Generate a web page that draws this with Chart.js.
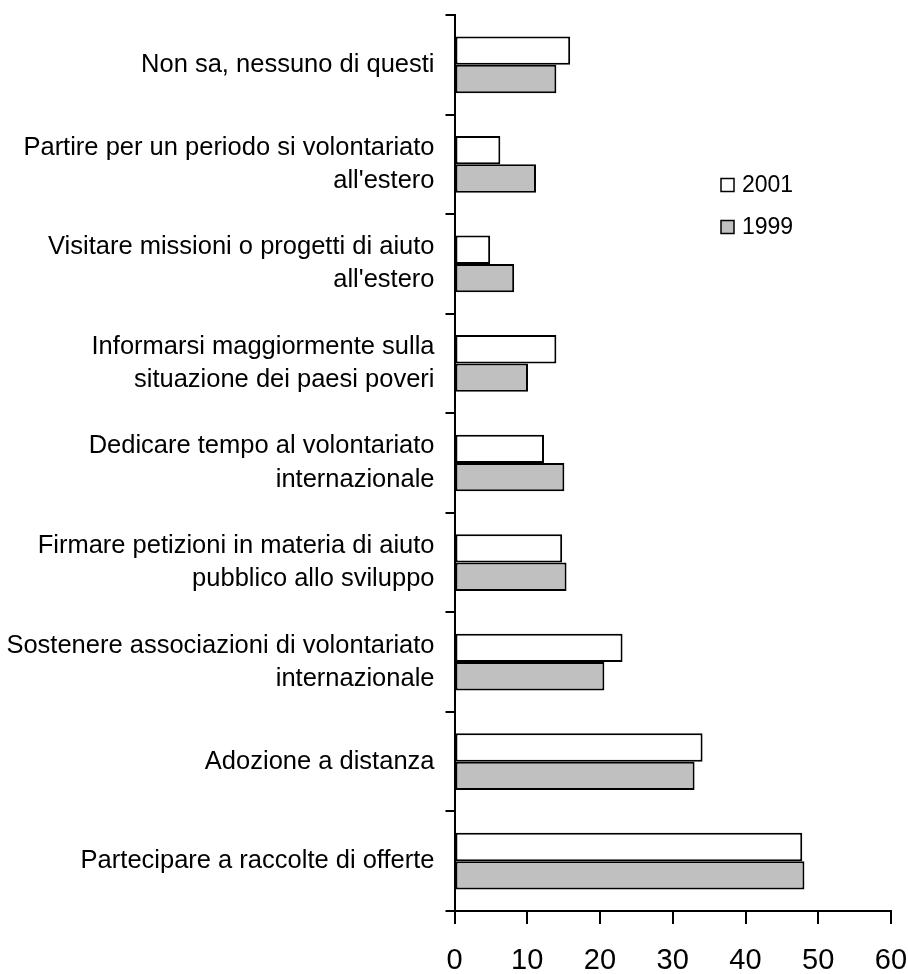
<!DOCTYPE html>
<html>
<head>
<meta charset="utf-8">
<script src="https://cdn.jsdelivr.net/npm/chart.js@4/dist/chart.umd.min.js"></script>
<style>
  html, body { margin: 0; padding: 0; background: #fff; }
  #wrap { width: 908px; height: 974px; position: relative; }
</style>
</head>
<body>
<div id="wrap"><canvas id="c" width="908" height="974"></canvas></div>
<script>
const categories = [
  ["Non sa, nessuno di questi"],
  ["Partire per un periodo si volontariato", "all'estero"],
  ["Visitare missioni o progetti di aiuto", "all'estero"],
  ["Informarsi maggiormente sulla", "situazione dei paesi poveri"],
  ["Dedicare tempo al volontariato", "internazionale"],
  ["Firmare petizioni in materia di aiuto", "pubblico allo sviluppo"],
  ["Sostenere associazioni di volontariato", "internazionale"],
  ["Adozione a distanza"],
  ["Partecipare a raccolte di offerte"]
];
const seriesNames = ["2001", "1999"];
const values2001 = [15.9, 6.3, 4.9, 14.0, 12.3, 14.8, 23.1, 34.1, 47.8];
const values1999 = [14.0, 11.2, 8.2, 10.1, 15.1, 15.4, 20.6, 33.0, 48.1];
const xTicks = [0, 10, 20, 30, 40, 50, 60];

const FONT = "'Liberation Sans', Arial, sans-serif";
const colors = ["#ffffff", "#c0c0c0"];

const legendPlugin = {
  id: 'customLegend',
  afterDraw(chart) {
    const ctx = chart.ctx;
    ctx.save();
    ctx.font = "23px " + FONT;
    ctx.textBaseline = "middle";
    ctx.textAlign = "left";
    const rows = [{y: 185}, {y: 227}];
    seriesNames.forEach((name, i) => {
      const y = rows[i].y;
      ctx.fillStyle = colors[i];
      ctx.fillRect(721, y - 6.5, 13, 13);
      ctx.strokeStyle = "#000";
      ctx.lineWidth = 1.5;
      ctx.strokeRect(721, y - 6.5, 13, 13);
      ctx.fillStyle = "#000";
      ctx.fillText(name, 742, y + 1);
    });
    ctx.restore();
  }
};

new Chart(document.getElementById('c'), {
  type: 'bar',
  data: {
    labels: categories,
    datasets: [
      { label: seriesNames[0], data: values2001, backgroundColor: colors[0], borderColor: '#000', borderWidth: 2, borderSkipped: false },
      { label: seriesNames[1], data: values1999, backgroundColor: colors[1], borderColor: '#000', borderWidth: 2, borderSkipped: false }
    ]
  },
  options: {
    indexAxis: 'y',
    responsive: false,
    animation: false,
    events: [],
    layout: { padding: { top: 15, right: 17, left: 0, bottom: 0 } },
    datasets: { bar: { categoryPercentage: 0.57, barPercentage: 1.0 } },
    plugins: {
      legend: { display: false },
      tooltip: { enabled: false },
      title: { display: false }
    },
    scales: {
      x: {
        type: 'linear',
        min: xTicks[0],
        max: xTicks[xTicks.length - 1],
        afterBuildTicks(scale) { scale.ticks = xTicks.map(v => ({ value: v })); },
        afterFit(scale) { scale.height = 63; scale.paddingLeft = 0; scale.paddingRight = 0; },
        ticks: { color: '#000', font: { family: FONT, size: 29 }, padding: 20, maxRotation: 0, autoSkip: false },
        grid: { drawOnChartArea: false, drawTicks: true, tickLength: 13, color: '#000', lineWidth: 2 },
        border: { display: true, color: '#000', width: 2 }
      },
      y: {
        type: 'category',
        afterFit(scale) { scale.width = 454.5; scale.paddingTop = 0; scale.paddingBottom = 0; },
        ticks: { color: '#000', font: { family: FONT, size: 25.5, lineHeight: 1.3 }, padding: 11, autoSkip: false },
        grid: { offset: true, drawOnChartArea: false, drawTicks: true, tickLength: 9, color: '#000', lineWidth: 2 },
        border: { display: true, color: '#000', width: 2 }
      }
    }
  },
  plugins: [legendPlugin]
});
</script>
</body>
</html>
